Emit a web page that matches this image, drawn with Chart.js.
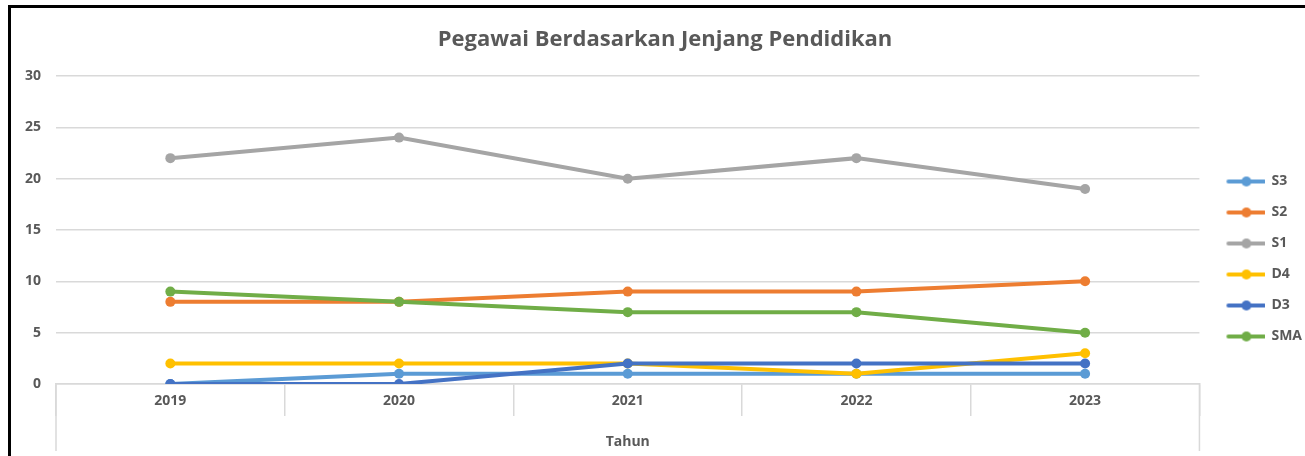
<!DOCTYPE html>
<html>
<head>
<meta charset="utf-8">
<script src="https://cdn.jsdelivr.net/npm/chart.js@4.4.1/dist/chart.umd.min.js"></script>
<style>
  html, body { margin: 0; padding: 0; background: #fff; }
  #wrap { position: relative; width: 1305px; height: 456px; overflow: hidden; }
  #frame { position: absolute; left: 8px; top: 5px; right: -10px; bottom: -10px;
           border-left: 3px solid #000; border-top: 3px solid #000; pointer-events: none; }
  canvas { position: absolute; left: 0; top: 0; }
</style>
</head>
<body>
<div id="wrap">
  <canvas id="chart" width="1305" height="456"></canvas>
  <div id="frame"></div>
</div>
<script>
// data
const years = ['2019', '2020', '2021', '2022', '2023'];
const seriesNames = ['S3', 'S2', 'S1', 'D4', 'D3', 'SMA'];
const s3  = [0, 1, 1, 1, 1];
const s2  = [8, 8, 9, 9, 10];
const s1  = [22, 24, 20, 22, 19];
const d4  = [2, 2, 2, 1, 3];
const d3  = [0, 0, 2, 2, 2];
const sma = [9, 8, 7, 7, 5];
const colors = ['#5B9BD5', '#ED7D31', '#A5A5A5', '#FFC000', '#4472C4', '#70AD47'];

const values = [s3, s2, s1, d4, d3, sma];
const gridColor = '#d9d9d9';
const textColor = '#595959';
const fontFamily = '"Open Sans", "Noto Sans", sans-serif';

// little "line with dot" glyph for the legend, like Excel
function legendGlyph(color) {
  const c = document.createElement('canvas');
  c.width = 50; c.height = 12;
  const g = c.getContext('2d');
  g.strokeStyle = color; g.lineWidth = 4; g.lineCap = 'round';
  g.beginPath(); g.moveTo(13, 6); g.lineTo(49, 6); g.stroke();
  g.fillStyle = color;
  g.beginPath(); g.arc(31, 6, 5, 0, Math.PI * 2); g.fill();
  return c;
}
const glyphs = colors.map(legendGlyph);

// outer category box edges run further down than the inner separators
const outerEdges = {
  id: 'outerEdges',
  afterDraw(chart) {
    const { ctx, chartArea } = chart;
    ctx.save();
    ctx.strokeStyle = gridColor;
    ctx.lineWidth = 1.5;
    [chartArea.left, chartArea.right].forEach(x => {
      ctx.beginPath();
      ctx.moveTo(x, chartArea.bottom);
      ctx.lineTo(x, 451);
      ctx.stroke();
    });
    ctx.restore();
  }
};

const datasets = seriesNames.map((name, i) => ({
  label: name,
  data: values[i],
  borderColor: colors[i],
  backgroundColor: colors[i],
  borderWidth: 4,
  pointRadius: 5,
  pointBorderWidth: 0,
  pointHoverRadius: 5,
  tension: 0,
  order: seriesNames.length - i
}));

new Chart(document.getElementById('chart'), {
  type: 'line',
  data: { labels: years, datasets },
  plugins: [outerEdges],
  options: {
    responsive: false,
    animation: false,
    layout: { padding: { top: 23, left: 18, right: -7, bottom: 0 } },
    plugins: {
      title: {
        display: true,
        text: 'Pegawai Berdasarkan Jenjang Pendidikan',
        color: textColor,
        font: { family: fontFamily, size: 22, weight: 'bold' },
        padding: { top: 4, bottom: 22.6 }
      },
      legend: {
        position: 'right',
        title: { display: true, text: ' ', font: { size: 10 }, padding: { top: 27, bottom: 0 } },
        labels: {
          usePointStyle: true,
          pointStyleWidth: 48,
          padding: 17,
          color: textColor,
          font: { family: fontFamily, size: 14, weight: 'bold' },
          sort: (a, b) => a.datasetIndex - b.datasetIndex,
          generateLabels(chart) {
            const items = Chart.defaults.plugins.legend.labels.generateLabels(chart);
            items.forEach(it => { it.pointStyle = glyphs[it.datasetIndex]; });
            return items;
          }
        }
      },
      tooltip: { enabled: false }
    },
    scales: {
      x: {
        offset: true,
        afterFit(scale) { scale.height = 72; },
        grid: {
          offset: true,
          drawOnChartArea: false,
          drawTicks: true,
          tickLength: 32,
          color: gridColor,
          lineWidth: 1.5
        },
        border: { color: gridColor, width: 1.5 },
        ticks: {
          color: textColor,
          padding: -23,
          font: { family: fontFamily, size: 14, weight: 'bold' }
        },
        title: {
          display: true,
          text: 'Tahun',
          color: textColor,
          font: { family: fontFamily, size: 14, weight: 'bold' },
          padding: { top: 4, bottom: 6 }
        }
      },
      y: {
        min: 0,
        max: 30,
        afterFit(scale) { scale.width = 38; },
        ticks: {
          stepSize: 5,
          color: textColor,
          padding: 15,
          font: { family: fontFamily, size: 14, weight: 'bold' }
        },
        grid: { color: gridColor, lineWidth: 1.5, drawTicks: false },
        border: { display: false }
      }
    }
  }
});
</script>
</body>
</html>
